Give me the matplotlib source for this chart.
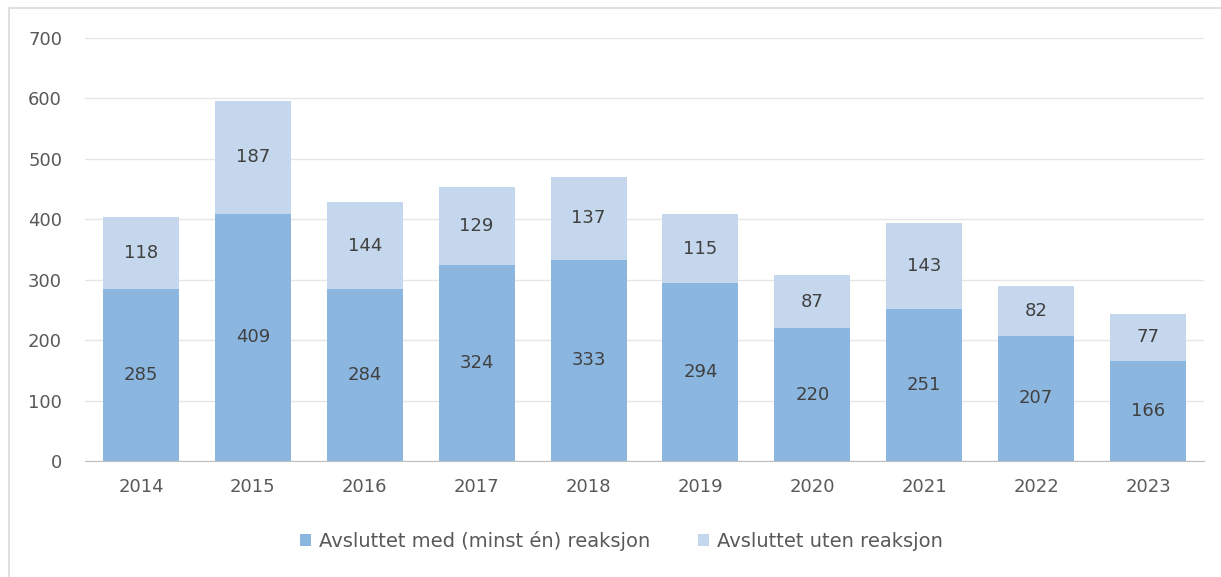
import matplotlib
matplotlib.use("Agg")
import matplotlib.pyplot as plt
from matplotlib.patches import Rectangle

years = ["2014", "2015", "2016", "2017", "2018", "2019", "2020", "2021", "2022", "2023"]
med_reaksjon = [285, 409, 284, 324, 333, 294, 220, 251, 207, 166]
uten_reaksjon = [118, 187, 144, 129, 137, 115, 87, 143, 82, 77]
series_names = ["Avsluttet med (minst én) reaksjon", "Avsluttet uten reaksjon"]
yticks = [0, 100, 200, 300, 400, 500, 600, 700]

plt.rcParams['font.family'] = ['DejaVu Sans']

fig = plt.figure(figsize=(12.21, 5.77), dpi=100)
fig.patches.append(Rectangle((9/1221, -0.1), 1.2, 1 - 8/577 + 0.1, transform=fig.transFigure,
                             fill=False, edgecolor='#D9D9D9', linewidth=1.2))
ax = fig.add_axes([85/1221, 1 - 461/577, (1204-85)/1221, (461-38)/577])

dark = '#8BB6E0'
light = '#C5D7EC'
x = range(len(years))
b1 = ax.bar(x, med_reaksjon, width=0.68, color=dark, zorder=2, label=series_names[0])
b2 = ax.bar(x, uten_reaksjon, width=0.68, bottom=med_reaksjon, color=light, zorder=2, label=series_names[1])

txtc = '#404040'
fs = 13
for i in x:
    ax.text(i, med_reaksjon[i] / 2, str(med_reaksjon[i]), ha='center', va='center', fontsize=fs, color=txtc, zorder=3)
    ax.text(i, med_reaksjon[i] + uten_reaksjon[i] / 2, str(uten_reaksjon[i]), ha='center', va='center', fontsize=fs, color=txtc, zorder=3)

ax.set_xlim(-0.5, len(years) - 0.5)
ax.set_ylim(0, 700)
ax.set_yticks(yticks)
ax.set_xticks(list(x))
ax.set_xticklabels(years)
ax.yaxis.grid(True, color='#E6E6E6', linewidth=1, zorder=0)
ax.set_axisbelow(True)
for s in ['top', 'right', 'left']:
    ax.spines[s].set_visible(False)
ax.spines['bottom'].set_color('#BFBFBF')
ax.tick_params(axis='both', length=0, labelsize=fs, labelcolor='#595959')
ax.tick_params(axis='y', pad=16.5)
ax.tick_params(axis='x', pad=12)

fig.legend(handles=[b1, b2], labels=series_names, loc='center', bbox_to_anchor=(0.509, 1 - 541/577),
           ncol=2, frameon=False, fontsize=14, labelcolor='#595959', handlelength=0.55, handleheight=0.55,
           handletextpad=0.4, columnspacing=2.5)

fig.savefig('out.png', dpi=100)
